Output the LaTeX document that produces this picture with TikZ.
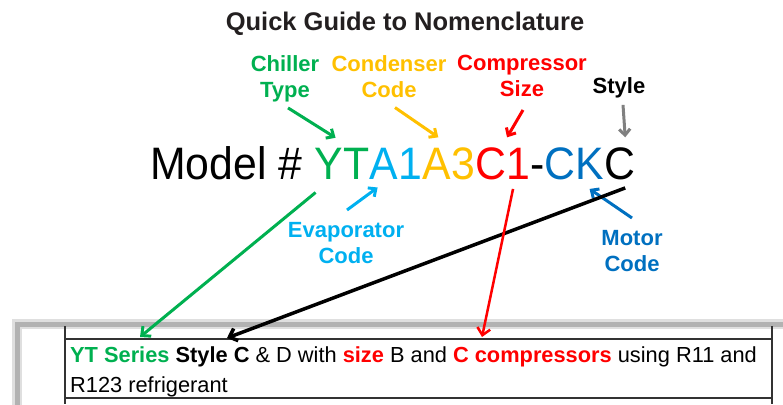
\documentclass[tikz,border=0pt]{standalone}
\usepackage{fontspec}
\setmainfont{Liberation Sans}
\newfontfamily\modelfont[FakeStretch=0.94]{Liberation Sans}
\usetikzlibrary{arrows.meta}
\definecolor{chillergreen}{HTML}{00B050}
\definecolor{condorange}{HTML}{FFC000}
\definecolor{compred}{HTML}{FF0000}
\definecolor{evapblue}{HTML}{00B0F0}
\definecolor{motorblue}{HTML}{0070C0}
\definecolor{stylegray}{HTML}{808080}
\definecolor{titlegray}{HTML}{231F20}

\begin{document}
\begin{tikzpicture}[x=1pt,y=1pt]
    \tikzstyle{arrow} = [-{Straight Barb[length=6pt,width=11pt]}, line width=3pt]
    \tikzstyle{longarrow} = [-{Straight Barb[length=7pt,width=13pt]}, line width=3pt]
    \tikzstyle{lbl} = [inner sep=0, anchor=north, align=center,
        font=\fontsize{22}{26}\selectfont\bfseries]
    \tikzstyle{part} = [inner sep=0, anchor=base west,
        font=\modelfont\fontsize{45.5}{50}\selectfont]
    \tikzstyle{tableline} = [draw=black!80, line width=1.2pt]

    \useasboundingbox (0,0) rectangle (783,404);

    \draw[gray!25, line width=10pt] (17,80) rectangle (800,-20);
    \draw[gray!60, line width=5pt] (17,80) rectangle (800,-20);
    \draw[tableline] (65,78) -- (65,0);
    \draw[tableline] (772,78) -- (772,0);
    \draw[tableline] (65,65) -- (772,65);
    \draw[tableline] (65,6) -- (772,6);

    \node(title) [inner sep=0, anchor=base, text=titlegray,
        font=\fontsize{25.5}{30}\selectfont\bfseries]
        at (405,373) {Quick Guide to Nomenclature};

    \node(chiller) [lbl, text=chillergreen] at (285,349) {Chiller\\Type};
    \node(condenser) [lbl, text=condorange] at (389,349) {Condenser\\Code};
    \node(compressor) [lbl, text=compred] at (522,349) {Compressor\\Size};
    \node(stylelbl) [lbl, text=black] at (619,327) {Style};
    \node(evaporator) [lbl, text=evapblue] at (346,182) {Evaporator\\Code};
    \node(motorlbl) [lbl, text=motorblue] at (632,174) {Motor\\Code};

    \node(model) [part] at (150,224.7) {Model \#};
    \node(yt) [part, text=chillergreen] at ([xshift=12pt]model.base east) {YT};
    \node(evap) [part, text=evapblue] at (yt.base east) {A1};
    \node(cond) [part, text=condorange] at (evap.base east) {A3};
    \node(comp) [part, text=compred] at (cond.base east) {C1};
    \node(dash) [part] at (comp.base east) {-};
    \node(motor) [part, text=motorblue] at (dash.base east) {CK};
    \node(style) [part] at (motor.base east) {C};

    \node(row) [inner sep=0, anchor=north west, align=left,
        font=\fontsize{21.8}{30}\selectfont]
        at (70,57)
        {{\color{chillergreen}\bfseries YT Series} {\bfseries Style C} \& D
        with {\color{compred}\bfseries size} B and {\color{compred}\bfseries C
        compressors} using R11 and\\ R123 refrigerant};

    \draw[arrow, chillergreen] ([xshift=3pt,yshift=-6pt]chiller.south)
        -- ([xshift=21pt,yshift=10pt]yt.north west);
    \draw[arrow, condorange] ([xshift=6pt,yshift=-10pt]condenser.south)
        -- ([xshift=16pt,yshift=10pt]cond.north west);
    \draw[arrow, compred] ([xshift=1pt,yshift=-13pt]compressor.south)
        -- ([xshift=32pt,yshift=10pt]comp.north west);
    \draw[arrow, stylegray] ([xshift=4pt,yshift=-7pt]stylelbl.south)
        -- ([xshift=5pt,yshift=10pt]style.north);
    \draw[arrow, evapblue] ([xshift=1pt,yshift=12pt]evaporator.north)
        -- ([xshift=8pt,yshift=-8pt]evap.south west);
    \draw[arrow, motorblue] ([yshift=12pt]motorlbl.north)
        -- ([xshift=-15pt,yshift=-9pt]motor.south east);

    \draw[longarrow, chillergreen] ([xshift=1pt,yshift=-13pt]yt.south west)
        -- ([xshift=70pt,yshift=10pt]row.north west);
    \draw[longarrow, black, line width=3.5pt]
        ([xshift=5pt,yshift=-8pt]style.south)
        -- ([xshift=157pt,yshift=9pt]row.north west);
    \draw[longarrow, compred, line width=2.5pt]
        ([xshift=38pt,yshift=-9pt]comp.south west)
        -- ([xshift=412pt,yshift=10pt]row.north west);
\end{tikzpicture}
\end{document}
